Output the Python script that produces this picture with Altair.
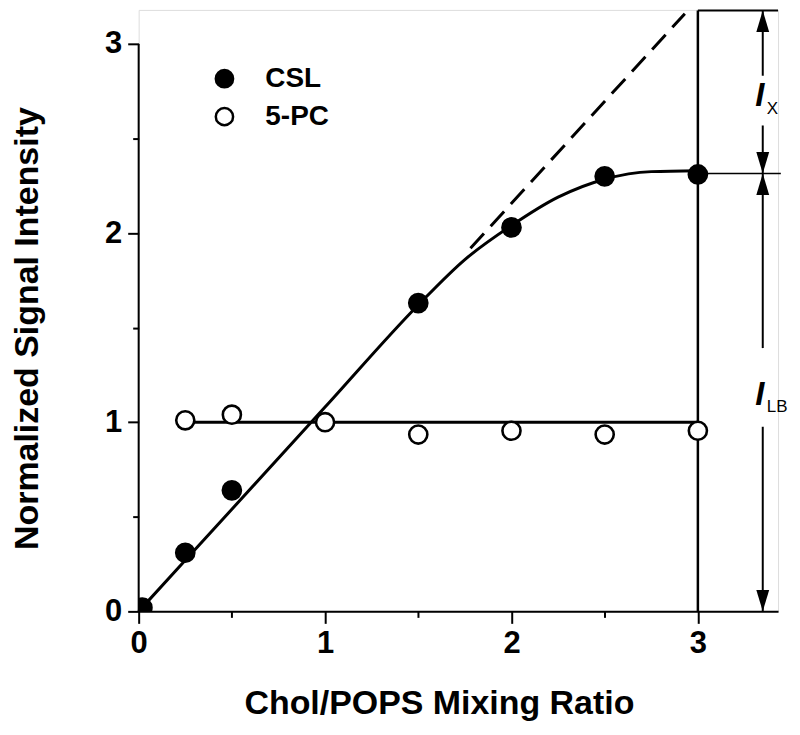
import altair as alt
import pandas as pd

# ---- data ----
series = ["CSL", "5-PC"]
csl_x = [0.02, 0.25, 0.5, 1.5, 2.0, 2.5, 3.0]
csl_y = [0.02, 0.31, 0.64, 1.63, 2.03, 2.30, 2.31]
pc_x = [0.25, 0.5, 1.0, 1.5, 2.0, 2.5, 3.0]
pc_y = [1.01, 1.04, 1.00, 0.935, 0.955, 0.935, 0.955]

fit_x = [0, 0.5, 1.0, 1.5, 1.75, 2.0, 2.25, 2.5, 2.75, 3.0]
fit_y = [0, 0.54, 1.08, 1.62, 1.86, 2.04, 2.19, 2.285, 2.325, 2.33]
dash_x = [1.78, 2.93]
dash_y = [1.92, 3.16]
flat_x = [0.25, 3.0]
flat_y = [1.0, 1.0]

tick_values = [0, 0.5, 1, 1.5, 2, 2.5, 3]

# annotation levels
level_top = 3.177
level_mid = 2.315
arrow_x = 3.348
bracket_x0 = 3.0
bracket_top_x1 = 3.43
bracket_mid_x1 = 3.445
ix_gap = [2.832, 2.569]
ilb_gap = [1.392, 0.976]
labels_I = [("I", 2.674, "X", 2.632), ("I", 1.092, "LB", 1.055)]

FONT = "Liberation Sans"
X_DOMAIN = [0, 3.43]
Y_DOMAIN = [0, 3.18]

xs = alt.Scale(domain=X_DOMAIN, nice=False, zero=False)
ys = alt.Scale(domain=Y_DOMAIN, nice=False, zero=False)

major = "datum.value % 1 === 0"
xaxis = alt.Axis(
    values=tick_values, title="Chol/POPS Mixing Ratio",
    labelExpr=f"{major} ? format(datum.value, 'd') : ''",
    tickSize={"condition": {"test": major, "value": 12}, "value": 6},
    labelPadding=5, labelFont=FONT, labelFontSize=31, labelFontWeight="bold",
    labelColor="black", titleFont=FONT, titleFontSize=34, titleFontWeight="bold",
    titleColor="black", titleX=301, titleY=102, titleBaseline="alphabetic",
    domainColor="black", domainWidth=2, tickColor="black", tickWidth=2,
    grid=False, labelFlush=False,
)
yaxis = alt.Axis(
    values=tick_values, title="Normalized Signal Intensity",
    labelExpr=f"{major} ? format(datum.value, 'd') : ''",
    tickSize={"condition": {"test": major, "value": 11}, "value": 6},
    labelPadding=6, labelFont=FONT, labelFontSize=31, labelFontWeight="bold",
    labelColor="black", titleFont=FONT, titleFontSize=34, titleFontWeight="bold",
    titleColor="black", titleX=-101, titleY=319, titleBaseline="alphabetic",
    domain=False, tickColor="black", tickWidth=2, grid=False, labelFlush=False,
)


def X(f="x"):
    return alt.X(f"{f}:Q", scale=xs, axis=xaxis)


def Y(f="y"):
    return alt.Y(f"{f}:Q", scale=ys, axis=yaxis)


pts = pd.DataFrame(
    {"x": csl_x + pc_x, "y": csl_y + pc_y,
     "series": [series[0]] * len(csl_x) + [series[1]] * len(pc_x)}
)
fit = pd.DataFrame({"x": fit_x, "y": fit_y})
dash = pd.DataFrame({"x": dash_x, "y": dash_y})
flat = pd.DataFrame({"x": flat_x, "y": flat_y})

fit_line = alt.Chart(fit).mark_line(color="black", strokeWidth=3, interpolate="monotone").encode(x=X(), y=Y())
dash_line = alt.Chart(dash).mark_line(color="black", strokeWidth=3, strokeDash=[20, 10]).encode(x=X(), y=Y())
flat_line = alt.Chart(flat).mark_line(color="black", strokeWidth=3).encode(x=X(), y=Y())

# y-axis line from 0 to 3
yline = alt.Chart(pd.DataFrame({"x": [0], "y": [0], "y2": [3]})).mark_rule(
    color="black", strokeWidth=2).encode(x=X(), y=Y(), y2="y2:Q")

# vertical line at x = 3
vline = alt.Chart(pd.DataFrame({"x": [3.0], "y": [0], "y2": [level_top]})).mark_rule(
    color="black", strokeWidth=2.5).encode(x=X(), y=Y(), y2="y2:Q")

hlines = alt.Chart(pd.DataFrame({
    "x": [bracket_x0, bracket_x0], "x2": [bracket_top_x1, bracket_mid_x1],
    "y": [level_top, level_mid], "w": [2.0, 1.3]})).mark_rule(color="black").encode(
    x=X(), x2="x2:Q", y=Y(), strokeWidth=alt.StrokeWidth("w:Q", scale=None))

shafts = alt.Chart(pd.DataFrame({
    "x": [arrow_x] * 4,
    "y": [level_top, ix_gap[1], level_mid, ilb_gap[1]],
    "y2": [ix_gap[0], level_mid, ilb_gap[0], 0]})).mark_rule(
    color="black", strokeWidth=2).encode(x=X(), y=Y(), y2="y2:Q")

UP = "M0,0L-0.3,1L0.3,1Z"
DOWN = "M0,0L-0.3,-1L0.3,-1Z"
heads_up = alt.Chart(pd.DataFrame({"x": [arrow_x] * 2, "y": [level_top, level_mid]})).mark_point(
    shape=UP, filled=True, color="black", size=1850, opacity=1).encode(x=X(), y=Y())
heads_down = alt.Chart(pd.DataFrame({"x": [arrow_x] * 2, "y": [level_mid, 0]})).mark_point(
    shape=DOWN, filled=True, color="black", size=1850, opacity=1).encode(x=X(), y=Y())

lab = pd.DataFrame({"x": [arrow_x] * 2, "y": [l[1] for l in labels_I], "t": [l[0] for l in labels_I]})
sub = pd.DataFrame({"x": [arrow_x] * 2, "y": [l[3] for l in labels_I], "t": [l[2] for l in labels_I]})
big_I = alt.Chart(lab).mark_text(
    font=FONT, fontSize=33, fontStyle="italic", fontWeight="bold", color="black",
    align="center", baseline="alphabetic", dx=-3).encode(x=X(), y=Y(), text="t:N")
sub_t = alt.Chart(sub).mark_text(
    font=FONT, fontSize=17, color="black", align="left", baseline="alphabetic", dx=4).encode(
    x=X(), y=Y(), text="t:N")

points = alt.Chart(pts).mark_circle(
    stroke="black", strokeWidth=2.6, size=330, opacity=1, clip=True).encode(
    x=X(), y=Y(),
    fill=alt.Fill("series:N", scale=alt.Scale(domain=series, range=["black", "white"]),
                  legend=alt.Legend(
                      orient="none", legendX=72, legendY=55, title=None,
                      labelFont=FONT, labelFontSize=28, labelFontWeight="bold",
                      labelColor="black", symbolType="circle", symbolSize=300,
                      symbolStrokeColor="black", symbolStrokeWidth=2.5,
                      rowPadding=10, labelOffset=27, padding=0)),
)

chart = alt.layer(
    yline, vline, hlines, shafts, heads_up, heads_down, big_I, sub_t,
    flat_line, dash_line, fit_line, points,
).properties(
    width=641, height=603,
    autosize=alt.AutoSizeParams(type="none"),
    padding={"left": 131, "top": 1, "right": 14, "bottom": 110},
).configure_view(stroke=None).configure(background="white")

chart.save("out.html", embed_options={"renderer": "svg", "actions": False})
